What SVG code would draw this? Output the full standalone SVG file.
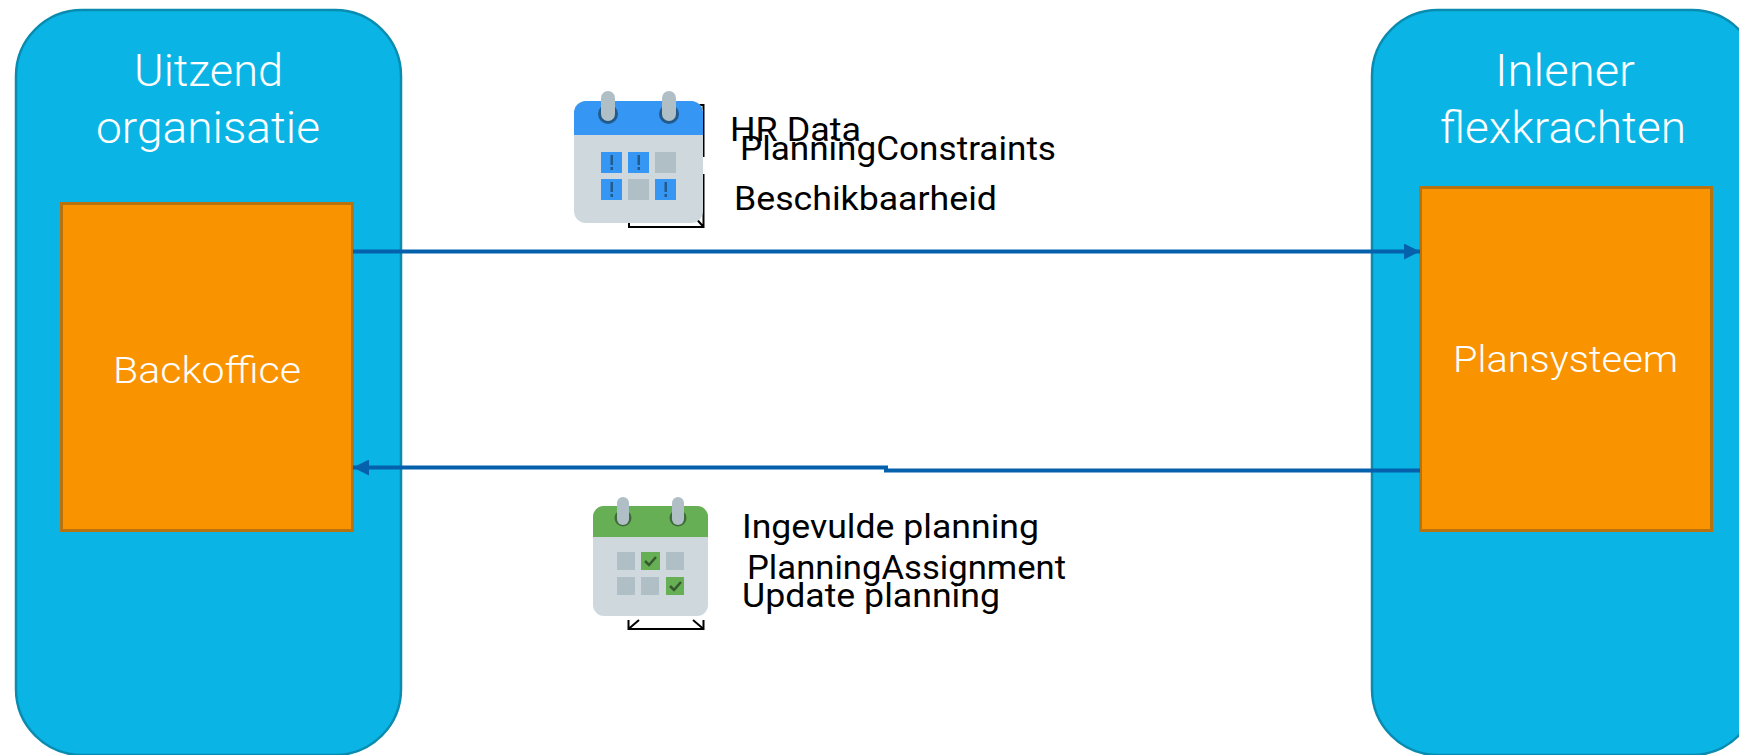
<svg xmlns="http://www.w3.org/2000/svg" width="1739" height="755" viewBox="0 0 1739 755">
<defs>
<style>
text{font-family:Roboto,"Liberation Sans",Arial,sans-serif}
.org{fill:#0AB5E6;stroke:#0A8CB0;stroke-width:2.500}
.sys{fill:#FA9300;stroke:#B8730F;stroke-width:3}
.h{fill:#fff;font-size:45px;font-weight:300}
.n{fill:#fff;font-size:36px;font-weight:300}
.t{fill:#000;font-size:34px;font-weight:400}
.c{fill:none;stroke:#0561AC;stroke-width:4}
.b{fill:none;stroke:#000;stroke-width:2}
.body{fill:#CFD8DC}
.ring{fill:#B0BEC5}
.off{fill:#B0BEC5}
</style>
<marker id="ah" markerUnits="userSpaceOnUse" markerWidth="16" markerHeight="16" refX="16" refY="8" orient="auto"><path d="M0 0L16 8L0 16Z" fill="#0561AC"/></marker>
</defs>
<g id="uitzend"><rect class="org" x="16" y="10" width="385" height="745" rx="66"/>
<text class="h" x="134" y="86" textLength="149" lengthAdjust="spacingAndGlyphs">Uitzend</text>
<text class="h" x="96" y="143" textLength="224" lengthAdjust="spacingAndGlyphs">organisatie</text></g>
<g id="inlener"><rect class="org" x="1372" y="10" width="386" height="745" rx="66"/>
<text class="h" x="1495" y="86" textLength="140" lengthAdjust="spacingAndGlyphs">Inlener</text>
<text class="h" x="1440" y="143" textLength="246" lengthAdjust="spacingAndGlyphs">flexkrachten</text></g>
<g id="backoffice"><rect class="sys" x="61.500" y="203.500" width="291" height="327"/>
<text class="n" x="113" y="383" textLength="188" lengthAdjust="spacingAndGlyphs">Backoffice</text></g>
<g id="plansysteem"><rect class="sys" x="1420.500" y="187.500" width="291" height="343"/>
<text class="n" x="1453" y="372" textLength="225" lengthAdjust="spacingAndGlyphs">Plansysteem</text></g>
<g id="connectors">
<path class="c" d="M353 251.500H1420" marker-end="url(#ah)"/>
<path class="c" d="M1420 470.500H886V467.500H353" marker-end="url(#ah)"/>
</g>
<g id="calendar-blue">
<path class="b" d="M690 105H703.500V157M703.500 174V227H629V215M703.500 227L694 216"/>
<rect x="574" y="101" width="129" height="122" rx="12" class="body"/>
<path d="M574 135V113a12 12 0 0 1 12-12H691a12 12 0 0 1 12 12V135Z" fill="#3696F3"/>
<circle cx="608" cy="114" r="10" fill="#225A8C"/><circle cx="669" cy="114" r="10" fill="#225A8C"/>
<rect class="ring" x="601" y="91" width="14" height="30" rx="7"/><rect class="ring" x="662" y="91" width="14" height="30" rx="7"/>
<g fill="#3696F3"><rect x="601" y="152" width="21" height="21"/><rect x="628" y="152" width="21" height="21"/><rect x="601" y="179" width="21" height="21"/><rect x="655" y="179" width="21" height="21"/></g>
<rect class="off" x="655" y="152" width="21" height="21"/><rect class="off" x="628" y="179" width="21" height="21"/>
<g fill="#225A8C"><rect x="610.500" y="155" width="2.500" height="10"/><rect x="610.500" y="167" width="2.500" height="3"/><rect x="637.500" y="155" width="2.500" height="10"/><rect x="637.500" y="167" width="2.500" height="3"/><rect x="610.500" y="182" width="2.500" height="10"/><rect x="610.500" y="194" width="2.500" height="3"/><rect x="664.500" y="182" width="2.500" height="10"/><rect x="664.500" y="194" width="2.500" height="3"/></g>
</g>
<g id="calendar-green">
<path class="b" d="M628.500 620V629H703.500V620M628.500 629L639 620M703.500 629L693 620"/>
<rect x="593" y="506" width="115" height="110" rx="11" class="body"/>
<path d="M593 537V517a11 11 0 0 1 11-11H697a11 11 0 0 1 11 11V537Z" fill="#66AF55"/>
<circle cx="623" cy="518" r="8.500" fill="#3F6B38"/><circle cx="678" cy="518" r="8.500" fill="#3F6B38"/>
<rect class="ring" x="617" y="497" width="12" height="28" rx="6"/><rect class="ring" x="672" y="497" width="12" height="28" rx="6"/>
<rect class="off" x="617" y="552" width="18" height="18"/><rect class="off" x="666" y="552" width="18" height="18"/><rect class="off" x="617" y="577" width="18" height="18"/><rect class="off" x="641" y="577" width="18" height="18"/>
<rect x="641" y="552" width="19" height="18" fill="#66AF55"/><rect x="666" y="577" width="18" height="18" fill="#66AF55"/>
<path d="M645 561l4 4l7-8M670 586l4 4l7-8" fill="none" stroke="#37592F" stroke-width="2.500"/>
</g>
<g id="labels">
<text class="t" x="730" y="141" textLength="131" lengthAdjust="spacingAndGlyphs">HR Data</text>
<text class="t" x="740" y="160" textLength="316" lengthAdjust="spacingAndGlyphs">PlanningConstraints</text>
<text class="t" x="734" y="210" textLength="263" lengthAdjust="spacingAndGlyphs">Beschikbaarheid</text>
<text class="t" x="742" y="538" textLength="297" lengthAdjust="spacingAndGlyphs">Ingevulde planning</text>
<text class="t" x="747" y="579" textLength="319" lengthAdjust="spacingAndGlyphs">PlanningAssignment</text>
<text class="t" x="742" y="607" textLength="258" lengthAdjust="spacingAndGlyphs">Update planning</text>
</g>
</svg>
